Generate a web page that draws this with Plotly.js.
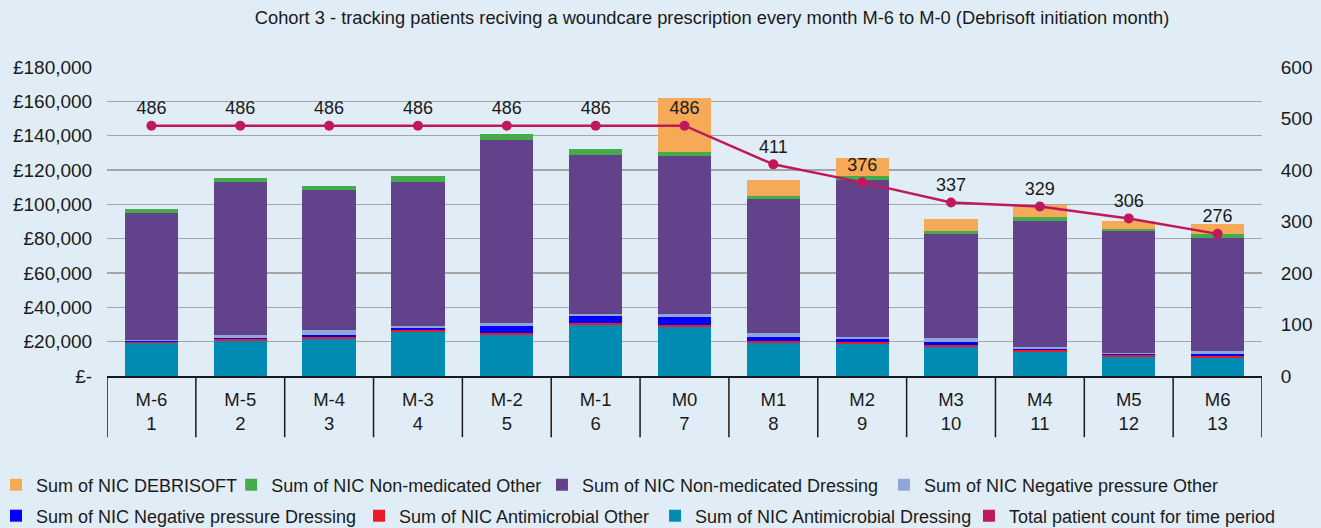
<!DOCTYPE html>
<html>
<head>
<meta charset="utf-8">
<script src="https://cdn.plot.ly/plotly-3.0.1.min.js"></script>
<style>
html,body{margin:0;padding:0;background:#E1EDF6;}
#chart{width:1321px;height:528px;}
</style>
</head>
<body>
<div id="chart"></div>
<script>
const months = ["M-6","M-5","M-4","M-3","M-2","M-1","M0","M1","M2","M3","M4","M5","M6"];
const periods = ["1","2","3","4","5","6","7","8","9","10","11","12","13"];

const antimicrobialDressing = [19000,20400,21400,25800,23900,29500,28550,19250,18650,16900,14000,10900,10500];
const antimicrobialOther    = [750,1000,1350,1150,1150,1350,1150,1150,1150,1150,1150,1350,1150];
const negPressureDressing   = [400,750,1150,1000,4050,4050,4650,2300,1750,1750,600,600,1150];
const negPressureOther      = [1000,1750,2900,1150,1750,1150,1750,2300,1150,2300,1150,750,1750];
const nonMedDressing        = [73600,89100,81500,83900,106700,92700,92100,78000,91500,60500,73300,70700,65700];
const nonMedOther           = [2400,2300,2300,3500,3500,3500,2500,1800,2300,1750,2350,1200,2350];
const debrisoft             = [0,0,0,0,0,0,31400,9360,10540,7020,7210,4680,5850];
const patientCount          = [486,486,486,486,486,486,486,411,376,337,329,306,276];

const cats = months.map((m,i) => m + "<br>" + periods[i]);

const FONT = "Liberation Sans, Arial, Helvetica, sans-serif";

function barTrace(name, y, color, legend) {
  return {type:"bar", name:name, x:cats, y:y, marker:{color:color, line:{width:0}},
          legend:legend, hoverinfo:"y+name"};
}

const traces = [
  barTrace("Sum of NIC Antimicrobial Dressing", antimicrobialDressing, "#008BB3", "legend7"),
  barTrace("Sum of NIC Antimicrobial Other", antimicrobialOther, "#ED1C24", "legend6"),
  barTrace("Sum of NIC Negative pressure Dressing", negPressureDressing, "#0000FF", "legend5"),
  barTrace("Sum of NIC Negative pressure Other", negPressureOther, "#8FA7D8", "legend4"),
  barTrace("Sum of NIC Non-medicated Dressing", nonMedDressing, "#63428C", "legend3"),
  barTrace("Sum of NIC Non-medicated Other", nonMedOther, "#45AC4B", "legend2"),
  barTrace("Sum of NIC DEBRISOFT", debrisoft, "#F6AA57", "legend"),
  {type:"scatter", mode:"lines+markers+text", name:"Total patient count for time period",
   x:cats, y:patientCount, yaxis:"y2", showlegend:false,
   line:{color:"#C0185A", width:2.5}, marker:{color:"#C0185A", size:10},
   text:patientCount.map(String), textposition:"top center",
   textfont:{family:FONT, size:18, color:"#1a1a1a"}, cliponaxis:false},
  {type:"bar", name:"Total patient count for time period", x:cats, y:cats.map(() => null),
   marker:{color:"#C0185A"}, legend:"legend8", hoverinfo:"skip"}
];

const shapes = [];
for (let i = 0; i <= cats.length; i++) {
  shapes.push({type:"line", xref:"x", yref:"paper", x0:i-0.5, x1:i-0.5, y0:0, y1:-0.198,
               line:{color:"#1a1a1a", width:1.5}});
}

function leg(x, y) {
  return {orientation:"h", x:x, xanchor:"left", y:y, yanchor:"middle",
          bgcolor:"rgba(0,0,0,0)", font:{size:18}};
}
const ROW1 = -0.3528, ROW2 = -0.4531;

const layout = {
  width:1321, height:528,
  paper_bgcolor:"#E1EDF6", plot_bgcolor:"#E1EDF6",
  margin:{l:107, r:59, t:67, b:152, autoexpand:false},
  font:{family:FONT, size:18, color:"#1a1a1a"},
  barmode:"stack", bargap:0.4,
  title:{text:"Cohort 3 - tracking patients reciving a woundcare prescription every month M-6 to M-0 (Debrisoft initiation month)",
         font:{family:FONT, size:18.3, color:"#1a1a1a"}, xref:"container", x:0.539, xanchor:"center",
         yref:"container", y:0.966, yanchor:"middle"},
  xaxis:{type:"category", range:[-0.5, cats.length - 0.5], showline:true, linecolor:"#1a1a1a", linewidth:1.5, showgrid:false,
         ticks:"outside", ticklen:6, tickcolor:"rgba(0,0,0,0)", tickfont:{size:18.5}, automargin:false},
  yaxis:{range:[0,180000], tickvals:[0,20000,40000,60000,80000,100000,120000,140000,160000,180000],
         ticktext:["£-","£20,000","£40,000","£60,000","£80,000","£100,000","£120,000","£140,000","£160,000","£180,000"],
         showgrid:true, gridcolor:"#A5A5A5", gridwidth:1.5, zeroline:false, showline:false,
         ticks:"outside", ticklen:10, tickcolor:"rgba(0,0,0,0)", tickfont:{size:19}, automargin:false},
  yaxis2:{range:[0,600], dtick:100, overlaying:"y", side:"right", showgrid:false, zeroline:false,
          showline:false, ticks:"outside", ticklen:14, tickcolor:"rgba(0,0,0,0)", tickfont:{size:19}, automargin:false},
  legend:  leg(-0.0961, ROW1),
  legend2: leg(0.1075, ROW1),
  legend3: leg(0.3766, ROW1),
  legend4: leg(0.6727, ROW1),
  legend5: leg(-0.0961, ROW2),
  legend6: leg(0.2182, ROW2),
  legend7: leg(0.4745, ROW2),
  legend8: leg(0.7463, ROW2),
  shapes:shapes,
  showlegend:true
};

Plotly.newPlot("chart", traces, layout, {displayModeBar:false, staticPlot:true});
</script>
</body>
</html>
